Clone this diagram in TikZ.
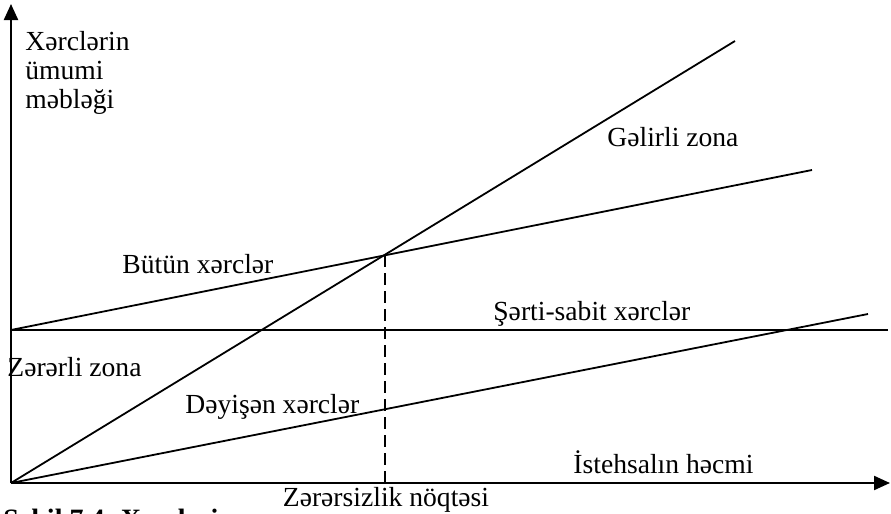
\documentclass[tikz,border=0pt]{standalone}
\usepackage{fontspec}
\setmainfont{Liberation Serif}
\usetikzlibrary{arrows.meta}
\tikzset{
	axis/.style={line width=1.1pt,-{Triangle[length=8pt,width=7pt]}},
	cost/.style={line width=0.9pt},
	lbl/.style={anchor=base west,inner sep=0pt}
}
\begin{document}
\begin{tikzpicture}[x=0.5pt,y=-0.5pt,font=\fontsize{13.8}{14.4}\selectfont]
	\clip (0,0) rectangle (891,514);
	\coordinate (O) at (11,483);
	\coordinate (Ytop) at (11,4);
	\coordinate (Xend) at (890,483);
	\coordinate (F0) at (11,330);
	\coordinate (F1) at (888,330);
	\coordinate (T1) at (812,170);
	\coordinate (R1) at (735,41);
	\coordinate (V1) at (868,314);
	\coordinate (B) at (385,255);
	\coordinate (Bx) at (385,483);
	\draw[axis] (O) -- (Ytop);
	\draw[axis] (O) -- (Xend);
	\draw[cost] (F0) -- (F1);
	\draw[cost] (F0) -- (T1);
	\draw[cost] (O) -- (R1);
	\draw[cost] (O) -- (V1);
	\draw[cost,dash pattern=on 6pt off 3pt] (B) -- (Bx);
	\path (25,108) node [lbl,align=left] (ylab) {Xərclərin\\ümumi\\məbləği};
	\path (607,147) node [lbl] (gain) {Gəlirli zona};
	\path (122,273) node [lbl] (total) {Bütün xərclər};
	\path (493,320) node [lbl] (fixed) {Şərti-sabit xərclər};
	\path (7,376) node [lbl] (loss) {Zərərli zona};
	\path (185,413) node [lbl] (var) {Dəyişən xərclər};
	\path (573,473) node [lbl] (xlab) {İstehsalın həcmi};
	\path (3,528) node [lbl,font=\fontsize{14}{14}\selectfont\bfseries] (cap) {Şəkil 7.4. Xərclərin};
	\path (386,506) node [anchor=base,inner sep=1pt,fill=white] (bep) {Zərərsizlik nöqtəsi};
\end{tikzpicture}
\end{document}
